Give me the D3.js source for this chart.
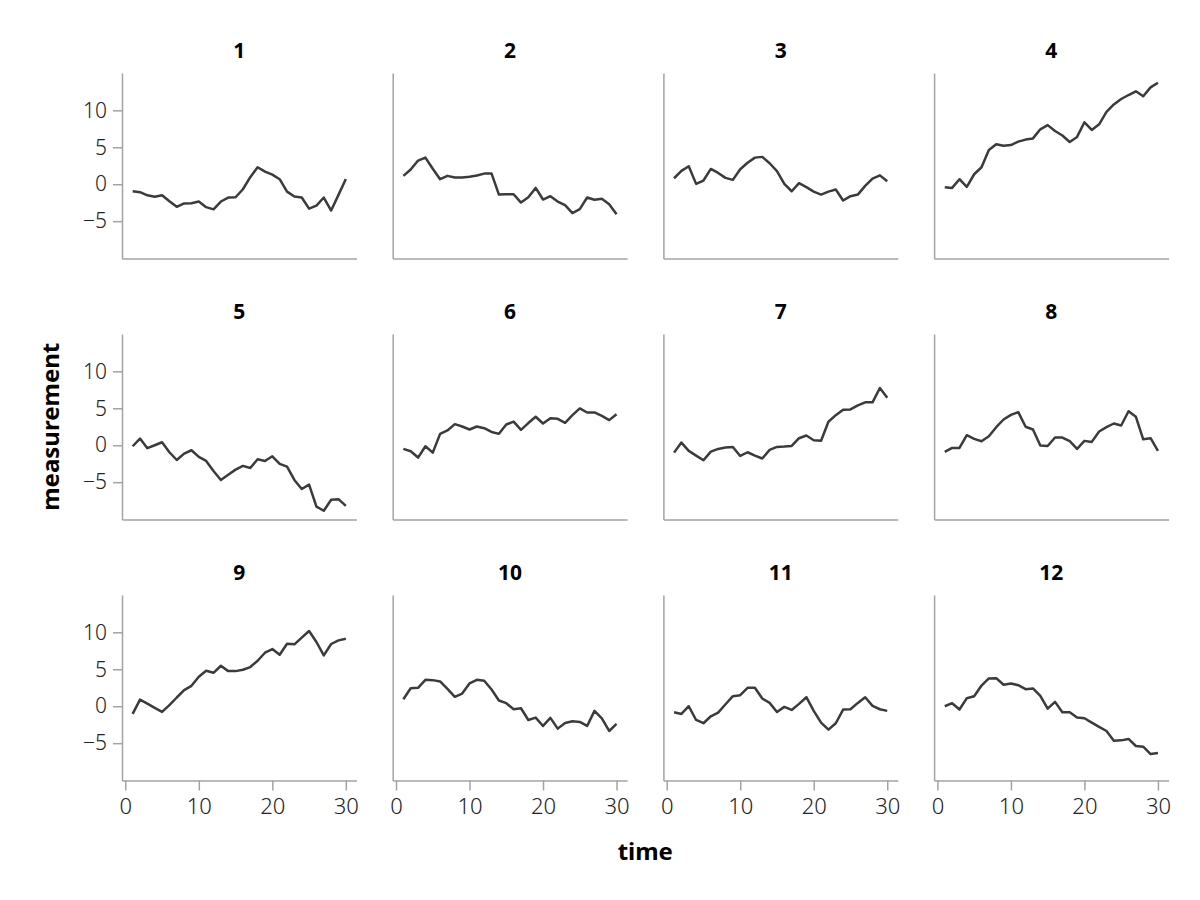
<!DOCTYPE html>
<html>
<head>
<meta charset="utf-8">
<script src="https://cdn.jsdelivr.net/npm/d3@7"></script>
<style>
  html, body { margin: 0; padding: 0; background: #fff; }
  svg { display: block; font-family: "Noto Sans", "Open Sans", sans-serif; }
</style>
</head>
<body>
<svg id="chart" width="1200" height="900"></svg>
<script>
// ---- data ----
const time = d3.range(1, 31);
const facetLabels = ["1","2","3","4","5","6","7","8","9","10","11","12"];
const yTicks = [-5, 0, 5, 10];
const xTicks = [0, 10, 20, 30];
const xLimits = [-0.45, 31.45];
const yLimits = [-10.05, 15.05];

const s1  = [-0.95,-1.08,-1.5,-1.7,-1.5,-2.3,-3.06,-2.6,-2.57,-2.34,-3.1,-3.4,-2.34,-1.8,-1.76,-0.68,0.95,2.3,1.7,1.3,0.68,-1.0,-1.67,-1.8,-3.3,-2.9,-1.8,-3.56,-1.44,0.72];
const s2  = [1.13,2.0,3.2,3.6,2.1,0.68,1.13,0.9,0.9,1.0,1.17,1.44,1.44,-1.4,-1.35,-1.35,-2.48,-1.76,-0.5,-2.07,-1.62,-2.34,-2.84,-3.9,-3.38,-1.8,-2.1,-1.98,-2.7,-4.05];
const s3  = [0.81,1.8,2.43,0.05,0.5,2.07,1.53,0.86,0.59,2.03,2.9,3.6,3.7,2.84,1.76,0.05,-0.95,0.14,-0.4,-1.0,-1.4,-1.0,-0.72,-2.2,-1.62,-1.4,-0.23,0.77,1.2,0.4];
const s4  = [-0.4,-0.5,0.68,-0.36,1.35,2.3,4.64,5.4,5.2,5.3,5.77,6.04,6.2,7.43,8.0,7.2,6.6,5.72,6.4,8.38,7.34,8.1,9.8,10.8,11.53,12.07,12.57,11.9,13.1,13.74];
const s5  = [-0.14,0.9,-0.4,0,0.4,-0.95,-2.0,-1.13,-0.68,-1.58,-2.13,-3.48,-4.7,-4.0,-3.3,-2.8,-3.08,-1.9,-2.13,-1.5,-2.53,-2.9,-4.7,-5.93,-5.33,-8.3,-8.87,-7.38,-7.3,-8.2];
const s6  = [-0.5,-0.81,-1.67,-0.14,-1.0,1.54,2.0,2.85,2.53,2.13,2.53,2.3,1.8,1.54,2.8,3.2,2.08,3.0,3.85,2.94,3.66,3.57,3.03,4.07,4.98,4.43,4.43,3.98,3.4,4.2];
const s7  = [-1.0,0.36,-0.77,-1.4,-2.04,-0.86,-0.5,-0.32,-0.23,-1.45,-0.95,-1.4,-1.8,-0.63,-0.23,-0.18,-0.1,0.95,1.31,0.68,0.6,3.17,4.07,4.8,4.84,5.38,5.8,5.8,7.74,6.43];
const s8  = [-0.9,-0.36,-0.36,1.36,0.86,0.54,1.22,2.44,3.48,4.1,4.48,2.5,2.13,-0.05,-0.1,1.04,1.04,0.54,-0.5,0.59,0.45,1.86,2.44,2.94,2.67,4.6,3.85,0.8,0.95,-0.77];
const s9  = [-1.04,0.9,0.36,-0.23,-0.77,0.14,1.18,2.17,2.76,3.98,4.8,4.52,5.48,4.75,4.75,4.93,5.3,6.15,7.24,7.74,6.97,8.46,8.37,9.28,10.18,8.69,6.88,8.42,8.91,9.14];
const s10 = [0.95,2.44,2.49,3.57,3.53,3.35,2.35,1.27,1.72,3.08,3.57,3.44,2.26,0.77,0.41,-0.41,-0.27,-1.86,-1.54,-2.67,-1.58,-3.03,-2.26,-2.04,-2.13,-2.67,-0.63,-1.63,-3.35,-2.4];
const s11 = [-0.81,-1.04,0,-1.86,-2.3,-1.36,-0.86,0.27,1.36,1.49,2.49,2.49,1.04,0.45,-0.77,-0.09,-0.5,0.32,1.22,-0.63,-2.22,-3.17,-2.3,-0.45,-0.41,0.45,1.22,0.05,-0.41,-0.63];
const s12 = [0,0.41,-0.45,1.09,1.36,2.8,3.76,3.8,2.9,3.08,2.85,2.31,2.4,1.4,-0.32,0.59,-0.81,-0.81,-1.54,-1.63,-2.22,-2.8,-3.35,-4.66,-4.62,-4.43,-5.38,-5.48,-6.47,-6.33];

const seriesList = [s1,s2,s3,s4,s5,s6,s7,s8,s9,s10,s11,s12];

// ---- layout ----
const nCols = 4, nRows = 3;
const gridLeft = 122, gridTop = 73;
const panelW = 234.5, panelH = 185.5;
const colStep = 270.7, rowStep = 261;
const spineColor = "#a3a3a3";
const lineColor = "#3b3b3b";
const tickFont = "'Noto Sans', 'Open Sans', sans-serif";

const svg = d3.select("#chart");

const x = d3.scaleLinear().domain(xLimits).range([0, panelW]);
const y = d3.scaleLinear().domain(yLimits).range([panelH, 0]);

const line = d3.line().x((d, i) => x(time[i])).y(d => y(d));

seriesList.forEach((vals, k) => {
  const col = k % nCols, row = Math.floor(k / nCols);
  const g = svg.append("g")
    .attr("transform", `translate(${gridLeft + col * colStep},${gridTop + row * rowStep})`);

  // title
  g.append("text")
    .attr("x", panelW / 2).attr("y", -15)
    .attr("text-anchor", "middle")
    .attr("font-size", 21).attr("font-weight", "bold").attr("fill", "#000")
    .text(facetLabels[k]);

  // y axis
  const ya = d3.axisLeft(y).tickValues(col === 0 ? yTicks : []).tickSize(col === 0 ? 9 : 0).tickPadding(6).tickSizeOuter(0);
  const yg = g.append("g").call(ya);
  yg.select(".domain").attr("stroke", spineColor).attr("stroke-width", 1.5);
  yg.selectAll(".tick line").attr("stroke", spineColor).attr("stroke-width", 1.5);
  yg.selectAll(".tick text").attr("font-size", 21).attr("font-weight", 300).attr("fill", "#222")
    .attr("font-family", tickFont);

  // x axis
  const xa = d3.axisBottom(x).tickValues(row === nRows - 1 ? xTicks : []).tickSize(row === nRows - 1 ? 10 : 0).tickPadding(8).tickSizeOuter(0);
  const xg = g.append("g").attr("transform", `translate(0,${panelH})`).call(xa);
  xg.select(".domain").attr("stroke", spineColor).attr("stroke-width", 1.5);
  xg.selectAll(".tick line").attr("stroke", spineColor).attr("stroke-width", 1.5);
  xg.selectAll(".tick text").attr("font-size", 22).attr("font-weight", 300).attr("fill", "#222")
    .attr("font-family", tickFont);

  // series
  g.append("path")
    .datum(vals)
    .attr("d", line)
    .attr("fill", "none")
    .attr("stroke", lineColor)
    .attr("stroke-width", 2.5)
    .attr("stroke-linejoin", "round");
});

// axis titles
const gridRight = gridLeft + (nCols - 1) * colStep + panelW;
const gridBottom = gridTop + (nRows - 1) * rowStep + panelH;
svg.append("text")
  .attr("x", (gridLeft + gridRight) / 2).attr("y", 860)
  .attr("text-anchor", "middle")
  .attr("font-size", 24).attr("font-weight", "bold")
  .text("time");
svg.append("text")
  .attr("transform", `translate(59,${(gridTop + gridBottom) / 2}) rotate(-90)`)
  .attr("text-anchor", "middle")
  .attr("font-size", 24).attr("font-weight", "bold")
  .text("measurement");
</script>
</body>
</html>
